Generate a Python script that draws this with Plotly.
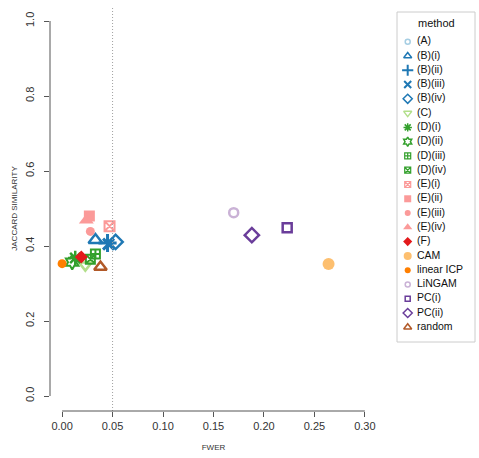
import plotly.graph_objects as go

# ── Dati ───────────────────────────────────────────────────────────────────
METHODS = ["(A)", "(B)(i)", "(B)(ii)", "(B)(iii)", "(B)(iv)", "(C)",
           "(D)(i)", "(D)(ii)", "(D)(iii)", "(D)(iv)",
           "(E)(i)", "(E)(ii)", "(E)(iii)", "(E)(iv)", "(F)",
           "CAM", "linear ICP", "LiNGAM", "PC(i)", "PC(ii)", "random"]

FWER = [None, 0.033, 0.045, 0.046, 0.053, 0.023,
        0.013, 0.010, 0.033, 0.028,
        0.047, 0.027, 0.028, 0.024, 0.019,
        0.264, 0.000, 0.170, 0.223, 0.188, 0.038]

JACCARD = [None, 0.416, 0.408, 0.405, 0.411, 0.349,
           0.368, 0.357, 0.379, 0.365,
           0.453, 0.480, 0.439, 0.469, 0.371,
           0.352, 0.353, 0.489, 0.449, 0.429, 0.344]

# ── Stile (palette "Paired") ──────────────────────────────────────────────
COLORS = ["#A6CEE3", "#1F78B4", "#1F78B4", "#1F78B4", "#1F78B4", "#B2DF8A",
          "#33A02C", "#33A02C", "#33A02C", "#33A02C",
          "#FB9A99", "#FB9A99", "#FB9A99", "#FB9A99", "#E31A1C",
          "#FDBF6F", "#FF7F00", "#CAB2D6", "#6A3D9A", "#6A3D9A", "#B15928"]

SYMBOLS = ["circle-open", "triangle-up-open", "cross-thin-open", "x-thin-open",
           "diamond-open", "triangle-down-open",
           "asterisk-open", "hexagram-open", "square-cross-open", "square-x-open",
           "square-x-open", "square", "circle", "triangle-up", "diamond",
           "circle", "circle", "circle-open", "square-open", "diamond-open",
           "triangle-up-open"]

SIZE_PLOT = [9, 12, 13, 11, 11, 11,
             12, 11, 9, 9,
             10, 11, 9, 13, 10,
             12, 9, 9, 9, 11, 11]
LW_PLOT = [2.5, 2.5, 3, 3, 2.5, 2.5,
           2.5, 2, 2, 2,
           2, 0, 0, 0, 0,
           0, 0, 2.5, 2.5, 2.5, 2.5]

SIZE_LEG = [5, 7, 8, 7, 7, 7,
            7, 7, 6, 6,
            6, 7, 6, 8, 7,
            8, 6, 5, 5, 7, 7]
LW_LEG = [1.5, 1.5, 2, 2, 1.5, 1.5,
          1.5, 1.5, 1.2, 1.2,
          1.2, 0, 0, 0, 0,
          0, 0, 1.5, 1.5, 1.5, 1.5]

FONT = "Liberation Sans, Arial, sans-serif"
AX_COL = "#555555"
TXT_COL = "#333333"

fig = go.Figure()

# ── punti ─────────────────────────────────────────────────────────────────
for m, x, y, c, s, sz, lw in zip(METHODS, FWER, JACCARD, COLORS, SYMBOLS,
                                 SIZE_PLOT, LW_PLOT):
    fig.add_trace(go.Scatter(
        x=[x], y=[y], mode="markers", name=m, showlegend=False,
        marker=dict(symbol=s, size=sz, color=c, line=dict(color=c, width=lw)),
        hovertemplate=f"<b>{m}</b><br>FWER: %{{x:.3f}}<br>Jaccard: %{{y:.3f}}<extra></extra>",
    ))

# ── legenda "method" (pannello a destra) ──────────────────────────────────
for m, c, s, sz, lw in zip(METHODS, COLORS, SYMBOLS, SIZE_LEG, LW_LEG):
    fig.add_trace(go.Scatter(
        x=[10.7], y=[m], xaxis="x2", yaxis="y2", mode="markers",
        showlegend=False, hoverinfo="skip",
        marker=dict(symbol=s, size=sz, color=c, line=dict(color=c, width=lw)),
    ))
fig.add_trace(go.Scatter(
    x=[20] * len(METHODS), y=METHODS, text=METHODS, xaxis="x2", yaxis="y2",
    mode="text", textposition="middle right",
    textfont=dict(size=10.5, color="#111111", family=FONT),
    showlegend=False, hoverinfo="skip",
))
fig.add_shape(type="rect", xref="x2 domain", yref="y2 domain",
              x0=0, x1=1, y0=0, y1=1, line=dict(color="#CCCCCC", width=1))
fig.add_annotation(text="method", xref="x2 domain", yref="y2 domain",
                   x=0.5, y=0.967, xanchor="center", yanchor="middle",
                   showarrow=False,
                   font=dict(size=11, color="#111111", family=FONT))

# linea di riferimento FWER = 0.05
fig.add_shape(type="line", xref="x", yref="y domain", x0=0.05, x1=0.05,
              y0=0, y1=1, line=dict(color="#A0A0A0", dash="1px,2px", width=1))

# assi "stile R": linea solo tra primo e ultimo tick
fig.add_shape(type="line", xref="x", yref="y domain", x0=0, x1=0.3, y0=0, y1=0,
              line=dict(color=AX_COL, width=1))
fig.add_shape(type="line", xref="x domain", yref="y", x0=0, x1=0, y0=0, y1=1,
              line=dict(color=AX_COL, width=1))

fig.update_layout(
    width=479, height=458,
    margin=dict(l=0, r=0, t=0, b=0),
    paper_bgcolor="white", plot_bgcolor="white",
    font=dict(family=FONT, color=TXT_COL),
    showlegend=False,
    xaxis=dict(
        domain=[50 / 479, 377 / 479], range=[-0.012, 0.312], automargin=False,
        showgrid=False, zeroline=False, showline=False,
        tickvals=[0, 0.05, 0.10, 0.15, 0.20, 0.25, 0.30], tickformat=".2f",
        ticks="outside", ticklen=5, tickcolor=AX_COL,
        tickfont=dict(size=11, color=TXT_COL),
        title=dict(text="FWER", font=dict(size=8, color=TXT_COL), standoff=13),
    ),
    yaxis=dict(
        domain=[47 / 458, 452 / 458], range=[-0.04, 1.04], automargin=False,
        showgrid=False, zeroline=False, showline=False,
        tickvals=[0, 0.2, 0.4, 0.6, 0.8, 1.0], tickformat=".1f", tickangle=-90,
        ticks="outside", ticklen=5, tickcolor=AX_COL, ticklabelstandoff=6,
        tickfont=dict(size=11, color=TXT_COL),
        title=dict(text="JACCARD SIMILARITY", font=dict(size=8, color=TXT_COL),
                   standoff=4),
    ),
    xaxis2=dict(domain=[397 / 479, 475 / 479], range=[0, 78], anchor="y2",
                visible=False, fixedrange=True),
    yaxis2=dict(domain=[116 / 458, 446 / 458], range=[21.03, -2.08],
                anchor="x2", type="category", categoryorder="array",
                categoryarray=METHODS, visible=False, fixedrange=True),
)

# niente margine del body, così la figura parte da (0, 0)
fig.write_html("out.html", config={"displayModeBar": False},
               post_script="document.body.style.margin='0';")
